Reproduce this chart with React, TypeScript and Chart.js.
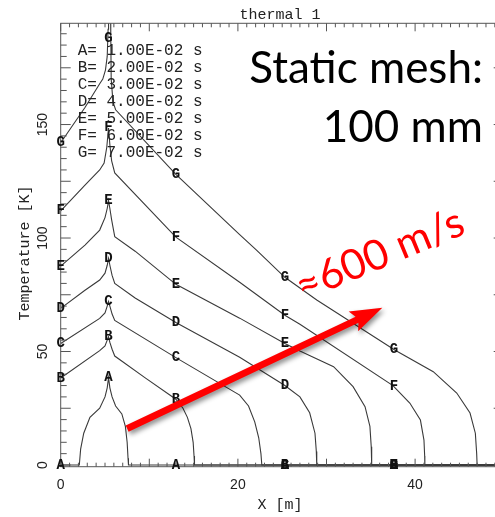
import React, { useEffect, useRef } from "react";
import { Chart, registerables } from "chart.js";
Chart.register(...registerables);

// ---- data ----
const seriesNames = ["A", "B", "C", "D", "E", "F", "G"];
const seriesTimes = [0.01, 0.02, 0.03, 0.04, 0.05, 0.06, 0.07];

const curveA: [number, number][] = [
  [0, 0], [2.1, 0], [2.25, 7], [2.6, 14], [3.3, 21], [4.4, 25], [5.0, 30], [5.25, 34], [5.4, 38.5],
  [5.55, 34], [5.8, 30], [6.2, 26], [6.9, 22.5], [7.3, 17], [7.5, 10], [7.6, 3], [7.65, 0], [50, 0],
];
const curveB: [number, number][] = [
  [0, 38.3], [4.4, 50.4], [5.0, 52.5], [5.25, 55], [5.4, 56.5], [5.55, 54], [5.8, 51], [6.1, 48],
  [9.5, 38.5], [13, 29], [13.8, 25], [14.3, 21], [14.7, 16], [14.95, 10], [15.05, 4], [15.1, 0], [50, 0],
];
const curveC: [number, number][] = [
  [0, 53.5], [4.4, 64.6], [5.0, 67], [5.25, 70], [5.4, 72], [5.55, 70], [5.8, 66.5], [6.1, 63.7],
  [13, 47.3], [20.2, 30.8], [21.2, 26], [21.9, 19], [22.35, 12], [22.6, 5], [22.7, 0], [50, 0],
];
const curveD: [number, number][] = [
  [0, 69], [2.74, 77], [4.4, 81.5], [5.0, 84.5], [5.25, 88], [5.4, 91], [5.55, 88], [5.8, 83.5], [6.1, 80],
  [8.4, 73.6], [13, 62.8], [20.2, 47.5], [25.3, 35], [27, 30], [28.1, 23], [28.7, 14], [28.85, 6], [28.9, 0], [50, 0],
];
const curveE: [number, number][] = [
  [0, 87.6], [2.74, 96.9], [4.4, 103.5], [5.0, 109], [5.25, 113], [5.4, 116.5], [5.55, 113], [5.75, 108],
  [6.1, 100.6], [8.4, 94.2], [13, 79.6], [20.2, 64.7], [25.3, 53.5], [27, 50.2], [30.8, 43.3], [33.0, 34.5],
  [34.35, 25.7], [34.9, 17], [35.05, 8], [35.1, 0], [50, 0],
];
const curveF: [number, number][] = [
  [0, 112], [2.74, 123.3], [4.4, 130], [4.9, 133], [5.2, 140], [5.4, 148.5], [5.55, 141], [5.75, 134],
  [6.1, 128.7], [13, 100.4], [20.2, 80.5], [25.3, 66], [27, 62], [37.5, 35], [39.4, 27.3], [40.6, 19.8],
  [41.0, 11], [41.08, 4], [41.1, 0], [50, 0],
];
const curveG: [number, number][] = [
  [0, 142], [2.74, 157.5], [4.4, 168], [4.75, 170], [5.05, 174], [5.25, 180], [5.35, 192], [5.4, 215],
  [5.6, 215], [5.65, 190], [5.7, 170], [5.9, 160], [6.2, 156.5], [13, 128], [20.2, 101.5], [22.1, 94.7],
  [25.3, 82.7], [28.9, 72.7], [37.7, 50.7], [42.05, 41.1], [44.7, 31.7], [46.2, 22.9], [46.8, 14],
  [46.95, 5], [47, 0], [50, 0],
];
const curves = [curveA, curveB, curveC, curveD, curveE, curveF, curveG];

const labelX = [0, 5.4, 13, 25.3, 37.6];
const xTickLabels = [0, 20, 40];
const yTickLabels = [0, 50, 100, 150];

// annotation anchors (data coordinates)
const arrowTail: [number, number] = [7.5, 16];
const arrowTip: [number, number] = [36.3, 69.3];
const speedTextAt: [number, number] = [36.6, 87.2];
const meshTextAt: [number, number] = [47.66, 168.3];

const W = 510;
const H = 517;

function interp(pts: [number, number][], x: number) {
  for (let i = 0; i < pts.length - 1; i++) {
    const [x0, y0] = pts[i];
    const [x1, y1] = pts[i + 1];
    if (x >= x0 && x <= x1) {
      if (x1 === x0) return Math.max(y0, y1);
      return y0 + ((y1 - y0) * (x - x0)) / (x1 - x0);
    }
  }
  return pts[pts.length - 1][1];
}

const decor = {
  id: "decor",
  afterDatasetsDraw(chart: any) {
    const { ctx, chartArea: a, scales } = chart;
    const xs = scales.x;
    const ys = scales.y;
    ctx.save();
    // frame
    ctx.strokeStyle = "#555";
    ctx.lineWidth = 1;
    ctx.strokeRect(a.left, a.top, a.right - a.left, a.bottom - a.top);
    // ticks
    ctx.beginPath();
    for (let v = 0; v <= 50; v += 1) {
      const px = xs.getPixelForValue(v);
      const len = v % 10 === 0 ? 8 : 4;
      ctx.moveTo(px, a.bottom);
      ctx.lineTo(px, a.bottom - len);
      ctx.moveTo(px, a.top);
      ctx.lineTo(px, a.top + len);
    }
    for (let v = 0; v <= 190; v += 5) {
      const py = ys.getPixelForValue(v);
      const len = v % 25 === 0 ? 10 : 6;
      ctx.moveTo(a.left, py);
      ctx.lineTo(a.left + len, py);
      ctx.moveTo(a.right, py);
      ctx.lineTo(a.right - len, py);
    }
    ctx.stroke();

    // tick labels
    ctx.fillStyle = "#222";
    ctx.font = '14px "Liberation Sans", Arial, sans-serif';
    ctx.textAlign = "center";
    ctx.textBaseline = "middle";
    xTickLabels.forEach((v) => {
      ctx.fillText(String(v), xs.getPixelForValue(v), a.bottom + 18);
    });
    yTickLabels.forEach((v) => {
      ctx.save();
      ctx.translate(a.left - 18, ys.getPixelForValue(v));
      ctx.rotate(-Math.PI / 2);
      ctx.fillText(String(v), 0, 0);
      ctx.restore();
    });

    // titles
    ctx.font = '15px "Liberation Mono", monospace';
    ctx.fillText("thermal 1", 280, 15);
    ctx.fillText("X [m]", 280, 505);
    ctx.save();
    ctx.translate(25, 253);
    ctx.rotate(-Math.PI / 2);
    ctx.fillText("Temperature [K]", 0, 0);
    ctx.restore();

    // legend block
    ctx.font = '16px "Liberation Mono", monospace';
    ctx.textAlign = "left";
    seriesNames.forEach((n, i) => {
      const t = seriesTimes[i].toExponential(2).replace("e-", "E-0").toUpperCase();
      ctx.fillText(`${n}= ${t} s`, a.left + 17, a.top + 27 + 17 * i);
    });

    // curve labels
    ctx.font = 'bold 14px "Liberation Mono", monospace';
    ctx.textAlign = "center";
    ctx.fillStyle = "#111";
    curves.forEach((pts, i) => {
      labelX.forEach((lx) => {
        const px = xs.getPixelForValue(lx);
        let py = ys.getPixelForValue(interp(pts, lx));
        py = Math.max(py, a.top + 15);
        ctx.fillText(seriesNames[i], px, py);
      });
    });

    // Static mesh text
    ctx.fillStyle = "#000";
    ctx.font = '44px Lato, "Open Sans", sans-serif';
    ctx.textAlign = "right";
    ctx.textBaseline = "alphabetic";
    const mx = xs.getPixelForValue(meshTextAt[0]);
    const my = ys.getPixelForValue(meshTextAt[1]);
    ctx.fillText("Static mesh:", mx, my);
    ctx.fillText("100 mm", mx, my + 59);

    // red arrow with shadow
    const tx = xs.getPixelForValue(arrowTail[0]);
    const ty = ys.getPixelForValue(arrowTail[1]);
    const hx = xs.getPixelForValue(arrowTip[0]);
    const hy = ys.getPixelForValue(arrowTip[1]);
    const ang = Math.atan2(hy - ty, hx - tx);
    const headLen = 32;
    const headW = 11;
    const bx = hx - headLen * Math.cos(ang);
    const by = hy - headLen * Math.sin(ang);
    const nx = -Math.sin(ang);
    const ny = Math.cos(ang);
    const sw = 3.4;
    ctx.save();
    ctx.shadowColor = "rgba(0,0,0,0.45)";
    ctx.shadowBlur = 5;
    ctx.shadowOffsetX = 2;
    ctx.shadowOffsetY = 3;
    ctx.fillStyle = "#f00";
    ctx.beginPath();
    ctx.moveTo(tx + nx * sw, ty + ny * sw);
    ctx.lineTo(bx + 4 * Math.cos(ang) + nx * sw, by + 4 * Math.sin(ang) + ny * sw);
    ctx.lineTo(bx + nx * headW, by + ny * headW);
    ctx.lineTo(hx, hy);
    ctx.lineTo(bx - nx * headW, by - ny * headW);
    ctx.lineTo(bx + 4 * Math.cos(ang) - nx * sw, by + 4 * Math.sin(ang) - ny * sw);
    ctx.lineTo(tx - nx * sw, ty - ny * sw);
    ctx.closePath();
    ctx.fill();
    ctx.restore();

    // speed text
    ctx.save();
    ctx.translate(xs.getPixelForValue(speedTextAt[0]), ys.getPixelForValue(speedTextAt[1]));
    ctx.rotate((-22.5 * Math.PI) / 180);
    ctx.fillStyle = "#f00";
    ctx.font = '42px Lato, "Open Sans", "DejaVu Sans", sans-serif';
    ctx.textAlign = "center";
    ctx.textBaseline = "alphabetic";
    ctx.fillText("\u2248600 m/s", 0, 0);
    ctx.restore();

    ctx.restore();
  },
};

export default function App() {
  const ref = useRef<HTMLCanvasElement | null>(null);
  useEffect(() => {
    document.body.style.margin = "0";
    const canvas = ref.current!;
    const chart = new Chart(canvas, {
      type: "scatter",
      data: {
        datasets: curves.map((pts, i) => ({
          label: seriesNames[i],
          data: pts.map(([x, y]) => ({ x, y })),
          showLine: true,
          borderColor: "#3a3a3a",
          borderWidth: 1.1,
          pointRadius: 0,
          tension: 0,
          fill: false,
        })),
      },
      options: {
        animation: false,
        responsive: false,
        devicePixelRatio: 1,
        events: [],
        layout: { padding: { left: 60.7, right: 6.3, top: 23.3, bottom: 50.3 } },
        plugins: { legend: { display: false }, tooltip: { enabled: false }, title: { display: false } },
        scales: {
          x: { type: "linear", min: 0, max: 50, display: false },
          y: { type: "linear", min: -0.75, max: 194.6, display: false },
        },
      },
      plugins: [decor],
    } as any);
    return () => chart.destroy();
  }, []);
  return (
    <div style={{ position: "absolute", left: 0, top: 0, width: 495, height: 517, overflow: "hidden", background: "#fff" }}>
      <canvas ref={ref} width={W} height={H} style={{ display: "block", width: W, height: H }} />
    </div>
  );
}
